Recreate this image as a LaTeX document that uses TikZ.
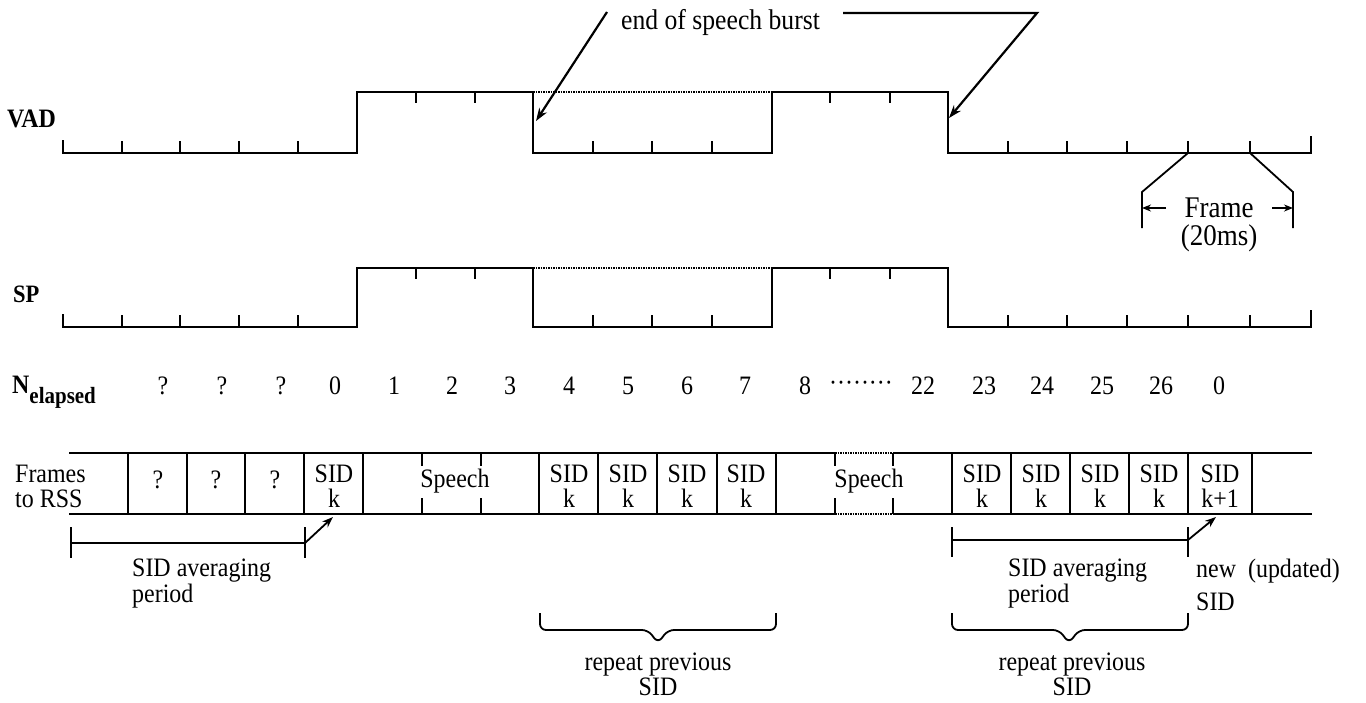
\documentclass[tikz,border=0pt]{standalone}
\usepackage{fontspec}
\setmainfont{Liberation Serif}[FakeStretch=0.9]
\usetikzlibrary{arrows.meta}

\begin{document}
\begin{tikzpicture}[x=1pt,y=-1pt,
            wave/.style={line width=2.6pt},
            tck/.style={line width=1.8pt},
            sep/.style={line width=1.5pt},
            hatch/.style={line width=2.8pt, dash pattern=on 1.8pt off 0.7pt},
            txt/.style={inner sep=0pt, font=\fontsize{26.6}{25}\selectfont},
            bold/.style={inner sep=0pt, font=\fontsize{26.6}{24}\selectfont\bfseries},
            >={Stealth[length=13pt,width=9pt]}]
	\useasboundingbox (0,0) rectangle (1366,702);

	% VAD and SP signals
	\foreach \lo/\hi in {153/92, 327/268}{
		\draw[wave] (63,\lo-13) -- (63,\lo) -- (357,\lo) -- (357,\hi) -- (533,\hi) -- (533,\lo) -- (772,\lo) -- (772,\hi) -- (948,\hi) -- (948,\lo) -- (1311,\lo) -- (1311,\lo-17);
		\draw[hatch] (533,\hi) -- (772,\hi);
		\foreach \x in {122,180,239,298,593,652,712,1008,1067,1127,1188,1250}
			\draw[tck] (\x,\lo) -- (\x,\lo-12);
		\foreach \x in {416,475,830,890}
			\draw[tck] (\x,\hi) -- (\x,\hi+11);
	}
	\node[bold, anchor=west] (vad) at (7,119) {VAD};
	\node[bold, font=\fontsize{25}{25}\selectfont\bfseries, anchor=west] (sp) at (13,294) {SP};

	% end of speech burst
	\node[txt, font=\fontsize{28.5}{28}\selectfont, anchor=base west] (eosb) at (621,29) {end of speech burst};
	\coordinate (e1) at (607,12);
	\coordinate (e2) at (843,13);
	\coordinate (e3) at (1037,13);
	\coordinate (fall1) at (536,121);
	\coordinate (fall2) at (949,118);
	\draw[line width=2.2pt,->] (e1) -- (fall1);
	\draw[line width=2.2pt,->] (e2) -- (e3) -- (fall2);

	% one frame
	\coordinate (fl) at (1142,208);
	\coordinate (fr) at (1293,208);
	\draw[tck] (1188,153) -- (1142,192) -- (1142,228);
	\draw[tck] (1250,153) -- (1293,192) -- (1293,228);
	\node[txt, font=\fontsize{30}{28}\selectfont, align=center, anchor=north] (frame) at (1219,198) {Frame\\(20ms)};
	\draw[tck,-{Stealth[length=9pt,width=7pt]}] (1166,208) -- (fl);
	\draw[tck,-{Stealth[length=9pt,width=7pt]}] (1272,208) -- (fr);

	% N elapsed
	\node[bold, anchor=base west] (nel) at (12,393) {N\raisebox{-10pt}{\fontsize{23.3}{23}\selectfont elapsed}};
	\foreach \t/\x [count=\k] in {?/163, ?/222, ?/281, 0/335, 1/394, 2/452, 3/510, 4/569, 5/628, 6/687, 7/745, 8/805, 22/923, 23/984, 24/1042, 25/1102, 26/1161, 0/1219}
		\node[txt, anchor=base] (n\k) at (\x,394) {\t};
	\node[txt, anchor=base] (ndots) at (861,391) {········};

	% frames to RSS
	\draw[wave] (69,453) -- (835,453) (893,453) -- (1312,453);
	\draw[wave] (69,514) -- (835,514) (893,514) -- (1312,514);
	\draw[hatch] (835,453) -- (893,453) (835,514) -- (893,514);
	\foreach \x in {128,187,245,304,363,539,598,657,717,776,952,1011,1070,1129,1188,1252}
		\draw[sep] (\x,453) -- (\x,514);
	\foreach \x in {422,481,835,893}
		\draw[sep] (\x,453) -- (\x,466) (\x,514) -- (\x,498);
	\node[txt, align=left, anchor=north west] (frm) at (15,465) {Frames\\to RSS};
	\foreach \x [count=\k] in {158,216,275}
		\node[txt, anchor=base] (q\k) at (\x,488) {?};
	\foreach \x [count=\k] in {334,569,628,687,746,982,1041,1100,1159}
		\node[txt, align=center, anchor=north] (sid\k) at (\x,465) {SID\\k};
	\node[txt, align=center, anchor=north] (sidnew) at (1220,465) {SID\\k+1};
	\node[txt, anchor=base] (speech1) at (455,487) {Speech};
	\node[txt, anchor=base] (speech2) at (869,487) {Speech};

	% averaging periods
	\coordinate (a1) at (305,543);
	\coordinate (a2) at (1188,540);
	\coordinate (t1) at (333,517);
	\coordinate (t2) at (1216,517);
	\draw[tck] (71,527) -- (71,558) (305,527) -- (305,558);
	\draw[wave] (71,543) -- (a1);
	\draw[tck,-{Stealth[length=11pt,width=8pt]}] (a1) -- (t1);
	\draw[tck] (952,527) -- (952,557) (1188,527) -- (1188,557);
	\draw[wave] (952,540) -- (a2);
	\draw[tck,-{Stealth[length=11pt,width=8pt]}] (a2) -- (t2);
	\node[txt, font=\fontsize{26.6}{22}\selectfont, align=left, anchor=north west] (avg1) at (132,559) {SID averaging\\period};
	\node[txt, font=\fontsize{26.6}{22}\selectfont, align=left, anchor=north west] (avg2) at (1008,559) {SID averaging\\period};
	\node[txt, align=left, anchor=north west] (upd) at (1196,559) {new~~(updated)\\[8pt]SID};

	% repeated SID
	\draw[tck, rounded corners=6pt] (540,613) -- (540,630) -- (648,630) -- (658,643) -- (668,630) -- (776,630) -- (776,613);
	\draw[tck, rounded corners=6pt] (952,613) -- (952,630) -- (1059,630) -- (1069,643) -- (1079,630) -- (1188,630) -- (1188,613);
	\node[txt, font=\fontsize{26.6}{23}\selectfont, align=center, anchor=north] (rep1) at (658,653) {repeat previous\\SID};
	\node[txt, font=\fontsize{26.6}{23}\selectfont, align=center, anchor=north] (rep2) at (1072,653) {repeat previous\\SID};
\end{tikzpicture}
\end{document}
